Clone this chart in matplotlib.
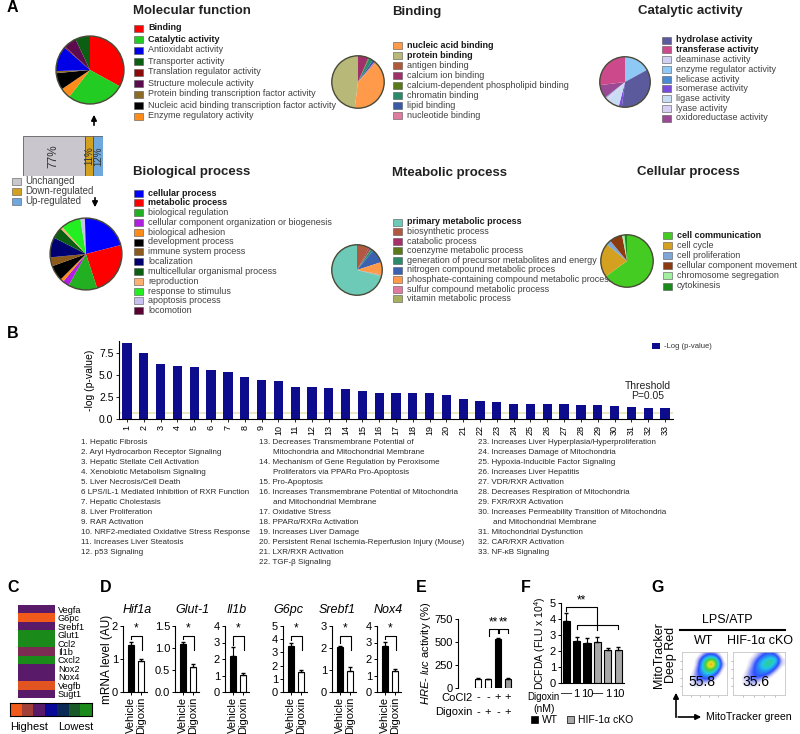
import numpy as np
import matplotlib.pyplot as plt
from matplotlib.patches import Rectangle, Circle
from matplotlib.colors import LinearSegmentedColormap

plt.rcParams['font.family'] = ['Liberation Sans Narrow', 'Liberation Sans', 'DejaVu Sans']
plt.rcParams['mathtext.fontset'] = 'custom'
plt.rcParams['mathtext.rm'] = 'Liberation Sans'
plt.rcParams['mathtext.it'] = 'Liberation Sans:italic'

W, H = 800, 734

# ---------------- A: GO pies ----------------
mf_labels = ['Binding', 'Catalytic activity', 'Antioxidabt activity', 'Transporter activity',
             'Translation regulator activity', 'Structure molecule activity',
             'Protein binding transcription factor activity',
             'Nucleic acid binding transcription factor activity', 'Enzyme regulatory activity']
mf_colors = ['#ff0000', '#22cc22', '#0000e6', '#0b5e12', '#8b0a0a', '#5c0b4e', '#8c6a28', '#000000', '#ff8c1a']
mf_values = [33, 27.5, 12, 7, 0.5, 6, 1, 8, 5]
mf_order = [0, 1, 8, 7, 6, 2, 4, 5, 3]

bp_labels = ['cellular process', 'metabolic process', 'biological regulation',
             'cellular component organization or biogenesis', 'biological adhesion',
             'development process', 'immune system process', 'localization',
             'multicellular organismal process', 'reproduction', 'response to stimulus',
             'apoptosis process', 'locomotion']
bp_colors = ['#0000ff', '#ff0000', '#22b022', '#b020e0', '#ff8c1a', '#000000', '#8c5a1a',
             '#000070', '#0b5e12', '#ffb070', '#22ee22', '#c8c0f0', '#5a0030']
bp_values = [21, 24, 13, 3, 1.5, 7, 4, 9, 5, 1, 9, 2, 0.5]
bp_order = list(range(13))

bd_labels = ['nucleic acid binding', 'protein binding', 'antigen binding', 'calcium ion binding',
             'calcium-dependent phospholipid binding', 'chromatin binding', 'lipid binding',
             'nucleotide binding']
bd_colors = ['#ff9a4a', '#b8b878', '#b0583a', '#a0306a', '#5a7a1a', '#2a8a6a', '#3a5aa8', '#e07aa0']
bd_values = [40, 48, 0.5, 6.5, 0.5, 2.5, 1.5, 0.5]
bd_order = [3, 4, 5, 6, 7, 2, 0, 1]

ca_labels = ['hydrolase activity', 'transferase activity', 'deaminase activity',
             'enzyme regulator activity', 'helicase activity', 'isomerase activity',
             'ligase activity', 'lyase activity', 'oxidoreductase activity']
ca_colors = ['#5a5a9c', '#cc4a8c', '#d0d0f4', '#8ec8f4', '#4a8ad0', '#7a4ad8', '#c8dcf4', '#d8d0f4', '#9a4a94']
ca_values = [35, 27, 1, 17, 0.5, 2, 8, 1, 8.5]
ca_order = [3, 0, 5, 6, 7, 2, 4, 8, 1]

me_labels = ['primary metabolic process', 'biosynthetic process', 'catabolic process',
             'coenzyme metabolic process', 'generation of precursor metabolites and energy',
             'nitrogen compound metabolic proces', 'phosphate-containing compound metabolic process',
             'sulfur compound metabolic process', 'vitamin metabolic process']
me_colors = ['#6ccab6', '#b05840', '#a8306a', '#5a7a1a', '#2a8a6a', '#3a62b0', '#ff9a4a', '#e07aa0', '#a8b060']
me_values = [71, 8, 1, 0.5, 1.5, 9, 8, 0.5, 0.5]
me_order = [1, 2, 3, 4, 5, 6, 7, 8, 0]

ce_labels = ['cell communication', 'cell cycle', 'cell proliferation', 'cellular component movement',
             'chromosome segregation', 'cytokinesis']
ce_colors = ['#44cc22', '#d4a020', '#7ea6d6', '#8c3a10', '#a0f0a0', '#1a8a1a']
ce_values = [65, 21, 3, 8, 1.5, 1.5]
ce_order = list(range(6))

change_labels = ['Unchanged', 'Down-regulated', 'Up-regulated']
change_values = [77, 11, 12]
change_colors = ['#c9c7cd', '#d4a020', '#6fa8dc']

# ---------------- B: pathways ----------------
path_values = [8.7, 7.5, 6.3, 6.0, 5.9, 5.6, 5.4, 4.8, 4.5, 4.3, 3.7, 3.6, 3.5, 3.4, 3.2, 3.0,
               2.95, 2.95, 2.95, 2.7, 2.3, 2.1, 1.9, 1.75, 1.7, 1.7, 1.7, 1.6, 1.6, 1.45, 1.35, 1.2, 1.2]
threshold = 0.65

col1 = ['1. Hepatic Fibrosis', '2. Aryl Hydrocarbon Receptor Signaling',
        '3. Hepatic Stellate Cell Activation', '4. Xenobiotic Metabolism Signaling',
        '5. Liver Necrosis/Cell Death', '6 LPS/IL-1 Mediated Inhibition of RXR Function',
        '7. Hepatic Cholestasis', '8. Liver Proliferation', '9. RAR Activation',
        '10. NRF2-mediated Oxidative Stress Response', '11. Increases Liver Steatosis',
        '12. p53 Signaling']
col2 = ['13. Decreases Transmembrane Potential of\nMitochondria and Mitochondrial Membrane',
        '14. Mechanism of Gene Regulation by Peroxisome\nProliferators via PPARα Pro-Apoptosis',
        '15. Pro-Apoptosis',
        '16. Increases Transmembrane Potential of Mitochondria\nand Mitochondrial Membrane',
        '17. Oxidative Stress', '18. PPARα/RXRα Activation', '19. Increases Liver Damage',
        '20. Persistent Renal Ischemia-Reperfusion Injury (Mouse)', '21. LXR/RXR Activation',
        '22. TGF-β Signaling']
col3 = ['23. Increases Liver Hyperplasia/Hyperproliferation', '24. Increases Damage of Mitochondria',
        '25. Hypoxia-Inducible Factor Signaling', '26. Increases Liver Hepatitis',
        '27. VDR/RXR Activation', '28. Decreases Respiration of Mitochondria',
        '29. FXR/RXR Activation',
        '30. Increases Permeability Transition of Mitochondria\nand Mitochondrial Membrane',
        '31. Mitochondrial Dysfunction', '32. CAR/RXR Activation', '33. NF-κB Signaling']

# ---------------- C: heatmap ----------------
heat_genes = ['Vegfa', 'G6pc', 'Srebf1', 'Glut1', 'Ccl2', 'Il1b', 'Cxcl2', 'Nox2', 'Nox4', 'Vegfb', 'Sugt1']
heat_rank = [2, 0, 2, 6, 6, 1.5, 6, 2, 2, 0.2, 2]
heat_colors = ['#f25a1c', '#a0403a', '#5a1a6a', '#0a0a9a', '#0a2a55', '#1a5a2a', '#1a8a1a']

# ---------------- D: qPCR ----------------
genes_d = ['Hif1a', 'Glut-1', 'Il1b', 'G6pc', 'Srebf1', 'Nox4']
vehicle = [1.42, 1.09, 2.2, 3.5, 2.05, 2.8]
vehicle_err = [0.1, 0.05, 0.5, 0.25, 0.06, 0.25]
digoxin = [0.94, 0.57, 1.03, 1.5, 0.95, 1.3]
digoxin_err = [0.06, 0.06, 0.12, 0.15, 0.2, 0.1]
d_ymax = [2, 1.5, 4, 5, 3, 4]
d_ticks = [[0, 1, 2], [0, 0.5, 1.0, 1.5], [0, 1, 2, 3, 4], [0, 1, 2, 3, 4, 5], [0, 1, 2, 3], [0, 1, 2, 3, 4]]

# ---------------- E: HRE-luc ----------------
hre_values = [100, 95, 530, 100]
hre_err = [8, 8, 10, 6]
cocl2 = ['-', '-', '+', '+']
dig_e = ['-', '+', '-', '+']

# ---------------- F: DCFDA ----------------
dcfda = [3.85, 2.6, 2.5, 2.55, 2.05, 2.05]
dcfda_err = [0.55, 0.3, 0.3, 0.3, 0.15, 0.2]
doses = ['—', '1', '10', '—', '1', '10']

# ---------------- G: flow density (rows bottom -> top) ----------------
dens_wt = [[0, 0, 0, 0, 0, 0, 0, 0],
           [0, 1, 1, 1, 0, 0, 0, 0],
           [0, 1, 2, 2, 2, 1, 0, 0],
           [0, 1, 2, 3, 4, 3, 1, 0],
           [0, 0, 2, 4, 6, 6, 3, 0],
           [0, 0, 1, 4, 8, 9, 5, 1],
           [0, 0, 1, 3, 6, 7, 4, 0],
           [0, 0, 0, 1, 2, 2, 1, 0]]
dens_ko = [[0, 0, 0, 0, 0, 0, 0, 0],
           [0, 1, 1, 1, 0, 0, 0, 0],
           [0, 1, 2, 2, 1, 0, 0, 0],
           [0, 1, 2, 3, 3, 2, 0, 0],
           [0, 0, 2, 3, 4, 4, 2, 0],
           [0, 0, 1, 3, 5, 6, 4, 1],
           [0, 0, 1, 2, 4, 5, 6, 1],
           [0, 0, 0, 1, 2, 3, 2, 0]]
flow_pct = ['55.8', '35.6']

fig = plt.figure(figsize=(W / 100, H / 100), dpi=100)
bg = fig.add_axes([0, 0, 1, 1])
bg.set_xlim(0, W)
bg.set_ylim(H, 0)
bg.axis('off')


def box(x0, y0, w, h):
    ax = fig.add_axes([x0 / W, 1 - (y0 + h) / H, w / W, h / H])
    ax.patch.set_alpha(0)
    return ax


def panel(x, y, s):
    bg.text(x, y, s, fontsize=11.5, fontweight='bold', va='center', ha='left', family='Liberation Sans')


def pie(cx, cy, r, values, colors, order):
    ax = box(cx - r, cy - r, 2 * r, 2 * r)
    ax.pie([values[i] for i in order], colors=[colors[i] for i in order], startangle=90,
           counterclock=False, wedgeprops=dict(linewidth=0))
    ax.add_patch(Circle((0, 0), 1, fill=False, ec='#4a4a38', lw=1.0))
    ax.set_xlim(-1.03, 1.03)
    ax.set_ylim(-1.03, 1.03)
    ax.set_aspect('equal')


def legend(x, y, dy, labels, colors, nbold=2, fs=6.5):
    for i, (lab, c) in enumerate(zip(labels, colors)):
        yy = y + i * dy
        bg.add_patch(Rectangle((x, yy - 3.5), 9, 7, fc=c, ec='#555555', lw=0.4))
        bold = i < nbold
        bg.text(x + 14, yy, lab, fontsize=fs, va='center', fontweight='bold' if bold else 'normal',
                color='#1a1a1a' if bold else '#404040')


def title(x, y, s):
    bg.text(x, y, s, fontsize=9.5, fontweight='bold', va='center', color='#222222')


# ---- A ----
panel(7, 8, 'A')
title(133, 11, 'Molecular function')
title(392, 12, 'Binding')
title(638, 11, 'Catalytic activity')
title(133, 172, 'Biological process')
title(392, 173, 'Mteabolic process')
title(637, 172, 'Cellular process')

pie(90, 70, 35, mf_values, mf_colors, mf_order)
pie(86, 254, 37, bp_values, bp_colors, bp_order)
pie(358, 82, 27, bd_values, bd_colors, bd_order)
pie(625, 82, 26, ca_values, ca_colors, ca_order)
pie(357, 270, 26, me_values, me_colors, me_order)
pie(627, 261, 27, ce_values, ce_colors, ce_order)

legend(134, 28, 11, mf_labels, mf_colors)
legend(134, 193, 9.8, bp_labels, bp_colors)
legend(393, 45, 10.1, bd_labels, bd_colors)
legend(662, 40, 9.75, ca_labels, ca_colors)
legend(393, 222, 9.6, me_labels, me_colors, nbold=1)
legend(663, 235, 10.2, ce_labels, ce_colors, nbold=1)

axs = box(23, 136, 80, 40)
left = 0
for v, c in zip(change_values, change_colors):
    axs.barh(0, v, left=left, height=1, color=c, edgecolor='#444444', lw=0.5)
    axs.text(left + v / 2, 0, f'{v}%', rotation=90, ha='center', va='center',
             fontsize=8.5 if v > 50 else 7, color='#333333')
    left += v
axs.set_xlim(0, 100)
axs.set_ylim(-0.5, 0.5)
axs.axis('off')
for i, (lab, c) in enumerate(zip(change_labels, change_colors)):
    yy = 181 + i * 10
    bg.add_patch(Rectangle((12, yy - 3.5), 9, 7, fc=c, ec='#555555', lw=0.4))
    bg.text(25, yy, lab, fontsize=7, va='center', color='#404040')
bg.annotate('', xy=(94, 112), xytext=(94, 128), arrowprops=dict(arrowstyle='-|>', color='k', lw=1.2, mutation_scale=8))
bg.annotate('', xy=(95, 210), xytext=(95, 195), arrowprops=dict(arrowstyle='-|>', color='k', lw=1.2, mutation_scale=8))

# ---- B ----
panel(7, 334, 'B')
axb = box(119, 341, 554, 78)
xb = np.arange(1, len(path_values) + 1)
axb.bar(xb, path_values, width=0.55, color='#0c0c8c')
axb.axhline(threshold, color='#ebe4b4', lw=1.2, zorder=0)
axb.set_xlim(0.52, 33.48)
axb.set_ylim(0, 8.9)
axb.set_yticks([0, 2.5, 5.0, 7.5])
axb.set_yticklabels(['0.0', '2.5', '5.0', '7.5'], fontsize=7.5)
axb.set_xticks(xb)
axb.set_xticklabels([str(i) for i in xb], rotation=90, fontsize=6.5)
axb.tick_params(length=2, width=0.6, pad=2)
for s in ['top', 'right']:
    axb.spines[s].set_visible(False)
for s in ['left', 'bottom']:
    axb.spines[s].set_linewidth(0.8)
axb.set_ylabel('-log (p-value)', fontsize=7.5, labelpad=3)
bg.add_patch(Rectangle((652, 343), 8, 6, fc='#0c0c8c', ec='none'))
bg.text(664, 346, '-Log (p-value)', fontsize=5.5, va='center', color='#333333')
bg.text(648, 386, 'Threshold', fontsize=7.5, ha='center', va='center', color='#222222')
bg.text(648, 396, 'P=0.05', fontsize=7.5, ha='center', va='center', color='#222222')


def text_col(x, y, entries, indent):
    line = 0
    for e in entries:
        for k, part in enumerate(e.split('\n')):
            bg.text(x + (indent if k else 0), y + line * 10, part, fontsize=5.8, va='center', color='#2a2a2a')
            line += 1


text_col(81, 443, col1, 0)
text_col(259, 443, col2, 14)
text_col(478, 443, col3, 15)

# ---- C ----
panel(7, 587, 'C')
heat_cmap = LinearSegmentedColormap.from_list('heat', heat_colors)
axc = box(18, 605, 37, 93)
axc.imshow(np.array(heat_rank).reshape(-1, 1), cmap=heat_cmap, vmin=0, vmax=6, aspect='auto', interpolation='nearest')
axc.set_xticks([])
axc.set_yticks(range(len(heat_genes)))
axc.set_yticklabels(heat_genes, fontsize=6.6)
axc.yaxis.tick_right()
axc.tick_params(length=0, pad=2)
for s in axc.spines.values():
    s.set_visible(False)
axcb = box(10, 703, 82, 13)
axcb.imshow(np.arange(7).reshape(1, -1), cmap=heat_cmap, vmin=0, vmax=6, aspect='auto')
axcb.set_xticks([])
axcb.set_yticks([])
for s in axcb.spines.values():
    s.set_linewidth(0.8)
bg.text(10, 727, 'Highest', fontsize=8, va='center')
bg.text(58, 727, 'Lowest', fontsize=8, va='center')

# ---- D ----
panel(100, 587, 'D')
d_left = [123, 175, 225, 283, 332, 377]
d_title_x = [137, 192, 237, 288, 337, 388]
for i, g in enumerate(genes_d):
    ax = box(d_left[i], 626, 24, 66)
    ax.bar([0, 1], [vehicle[i], digoxin[i]], width=0.6, color=['black', 'white'], edgecolor='black', lw=0.8)
    ax.errorbar([0, 1], [vehicle[i], digoxin[i]], yerr=[[0, 0], [vehicle_err[i], digoxin_err[i]]],
                fmt='none', ecolor='black', elinewidth=0.8, capsize=1.5)
    m = d_ymax[i]
    yb = m * 0.85
    ax.plot([0, 0, 1.05, 1.05], [vehicle[i] + vehicle_err[i] + 0.04 * m, yb, yb, yb - 0.22 * m], color='k', lw=0.8, clip_on=False)
    ax.text(0.5, yb + 0.02 * m, '*', ha='center', va='bottom', fontsize=8.5)
    ax.set_xlim(-0.8, 1.6)
    ax.set_ylim(0, m)
    ax.set_yticks(d_ticks[i])
    if i == 1:
        ax.set_yticklabels([f'{t:.1f}' for t in d_ticks[i]])
    ax.set_xticks([0, 1])
    ax.set_xticklabels(['Vehicle', 'Digoxin'], rotation=90)
    ax.tick_params(labelsize=8, length=2, width=0.7, pad=1.5)
    for s in ['top', 'right']:
        ax.spines[s].set_visible(False)
    for s in ['left', 'bottom']:
        ax.spines[s].set_linewidth(0.8)
    bg.text(d_title_x[i], 610, g, fontsize=9, style='italic', ha='center', va='center')
bg.text(107, 659, 'mRNA level (AU)', fontsize=8.5, rotation=90, ha='center', va='center')

# ---- E ----
panel(416, 587, 'E')
axe = box(458, 619, 56, 69)
axe.bar(range(4), hre_values, width=0.65, color=['white', 'white', 'black', '#9a9a9a'], edgecolor='black', lw=0.8)
axe.errorbar(range(4), hre_values, yerr=[[0] * 4, hre_err], fmt='none', ecolor='black', elinewidth=0.8, capsize=1.5)
for a, b in [(1, 2), (2, 3)]:
    top = 640
    axe.plot([a + 0.05, a + 0.05, b - 0.05, b - 0.05], [top - 80 if a == 1 else top - 40, top, top, top - 40], color='k', lw=0.8)
    axe.text((a + b) / 2, top + 10, '**', ha='center', va='bottom', fontsize=8.5)
axe.set_xlim(-2.0, 3.6)
axe.set_ylim(0, 750)
axe.set_yticks([0, 250, 500, 750])
axe.set_xticks(range(4))
axe.set_xticklabels([f'{c}\n{d}' for c, d in zip(cocl2, dig_e)], linespacing=1.6)
axe.tick_params(labelsize=8, length=2, width=0.7, pad=1.5)
axe.tick_params(axis='x', length=0, pad=3)
axe.spines['bottom'].set_visible(False)
for s in ['top', 'right']:
    axe.spines[s].set_visible(False)
axe.spines['left'].set_linewidth(0.8)
axe.set_ylabel(r'$\it{HRE}$- $\it{luc}$ activity (%)', fontsize=8, labelpad=1)
bg.text(473, 698, 'CoCl2', fontsize=8, ha='right', va='center')
bg.text(473, 712, 'Digoxin', fontsize=8, ha='right', va='center')

# ---- F ----
panel(521, 587, 'F')
axf = box(561, 603, 63, 80)
f_colors = ['black'] * 3 + ['#a8a8a8'] * 3
axf.bar(range(6), dcfda, width=0.68, color=f_colors, edgecolor='black', lw=0.8)
axf.errorbar(range(6), dcfda, yerr=[[0] * 6, dcfda_err], fmt='none', ecolor='black', elinewidth=0.8, capsize=1.5)
axf.plot([0, 0, 3, 3], [4.5, 4.75, 4.75, 3.3], color='k', lw=0.8)
axf.text(1.5, 4.8, '**', ha='center', va='bottom', fontsize=8.5)
axf.plot([1, 1, 5, 5], [3.35, 3.6, 3.6, 3.35], color='k', lw=0.8)
axf.set_xlim(-0.5, 5.55)
axf.set_ylim(0, 5)
axf.set_yticks(range(6))
axf.set_xticks(range(6))
axf.set_xticklabels(doses)
axf.tick_params(labelsize=8, length=2, width=0.7, pad=1.5)
axf.tick_params(axis='x', length=0, pad=4)
for s in ['top', 'right']:
    axf.spines[s].set_visible(False)
for s in ['left', 'bottom']:
    axf.spines[s].set_linewidth(0.8)
axf.set_ylabel(r'DCFDA (FLU x 10$^4$)', fontsize=7.5, labelpad=1)
bg.text(527, 697, 'Digoxin', fontsize=7, va='center')
bg.text(533, 709, '(nM)', fontsize=7.5, va='center')
bg.add_patch(Rectangle((531, 716), 7, 7, fc='black', ec='black', lw=0.5))
bg.text(542, 720, 'WT', fontsize=7.5, va='center')
bg.add_patch(Rectangle((567, 716), 7, 7, fc='#a8a8a8', ec='black', lw=0.5))
bg.text(578, 720, 'HIF-1α cKO', fontsize=7.5, va='center')

# ---- G ----
panel(651, 587, 'G')
bg.text(727, 620, 'LPS/ATP', fontsize=9, ha='center', va='center')
bg.plot([680, 785], [630, 630], color='k', lw=1.5)
bg.text(704, 641, 'WT', fontsize=9, ha='center', va='center')
bg.text(760, 641, 'HIF-1α cKO', fontsize=9, ha='center', va='center')
flow_cmap = LinearSegmentedColormap.from_list(
    'flow', [(0, 'white'), (0.08, 'white'), (0.15, '#d6d4f4'), (0.3, '#3050ff'), (0.5, '#20c8e8'),
             (0.68, '#40d040'), (0.82, '#e8e020'), (1.0, '#e01818')])
for k, (dens, pct, x0, w) in enumerate([(dens_wt, flow_pct[0], 682, 45), (dens_ko, flow_pct[1], 733, 52)]):
    ax = box(x0, 652, w, 43)
    ax.imshow(np.array(dens, dtype=float), origin='lower', cmap=flow_cmap, vmin=0, vmax=9,
              interpolation='bicubic', extent=(0, 1, 0, 1), aspect='auto')
    ax.set_xlim(0, 1)
    ax.set_ylim(0, 1)
    ax.set_xticks([0.2, 0.4, 0.6, 0.8])
    ax.set_yticks([0.2, 0.4, 0.6, 0.8])
    ax.set_xticklabels([])
    ax.set_yticklabels([])
    ax.tick_params(length=1.5, width=0.4, colors='#888888')
    for s in ax.spines.values():
        s.set_color('#bbbbbb')
        s.set_linewidth(0.5)
    ax.text(0.45, 0.3, pct, fontsize=10, ha='center', va='center', transform=ax.transAxes)
bg.text(665, 655, 'MitoTracker\nDeep Red', fontsize=9, rotation=90, ha='center', va='center', linespacing=1.0)
bg.plot([676, 676], [717, 698], color='k', lw=1.2)
bg.annotate('', xy=(676, 690), xytext=(676, 700), arrowprops=dict(arrowstyle='-|>', color='k', lw=1.2, mutation_scale=8))
bg.annotate('', xy=(704, 717), xytext=(675.4, 717), arrowprops=dict(arrowstyle='-|>', color='k', lw=1.2, mutation_scale=8))
bg.text(706, 717, 'MitoTracker green', fontsize=7.6, va='center')

fig.savefig('out.png', dpi=100)
